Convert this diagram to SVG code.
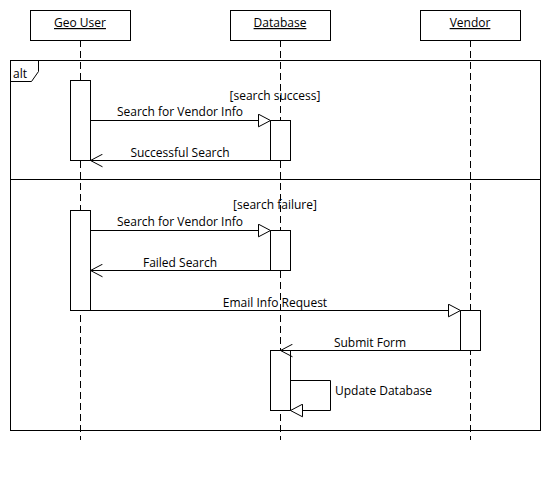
<svg xmlns="http://www.w3.org/2000/svg" width="550" height="480" viewBox="0 0 550 480">
<defs>
<style>
text{font-family:"Open Sans","Noto Sans","DejaVu Sans",sans-serif;font-size:12px;fill:#000}
.mid{text-anchor:middle}
.title{text-decoration:underline}
.box{fill:#fff;stroke:#000;stroke-width:1}
.life{stroke:#000;stroke-width:1;stroke-dasharray:7,4;fill:none}
.msg{stroke:#000;stroke-width:1;fill:none}
.frame{fill:none;stroke:#000;stroke-width:1}
</style>
<marker id="tri" viewBox="0 0 13 14" refX="12.5" refY="7" markerWidth="13" markerHeight="14" markerUnits="userSpaceOnUse" orient="auto">
<path d="M0.5,0.7 L12.5,7 L0.5,13.3 Z" fill="#fff" stroke="#000" stroke-width="1"/>
</marker>
<marker id="open" viewBox="0 0 13 14" refX="12.5" refY="7" markerWidth="13" markerHeight="14" markerUnits="userSpaceOnUse" orient="auto">
<path d="M0.5,0.7 L12.5,7 L0.5,13.3" fill="none" stroke="#000" stroke-width="1"/>
</marker>
</defs>
<rect width="550" height="480" fill="#fff"/>

<g id="frame-alt">
<rect class="frame" x="10.5" y="60.5" width="530" height="370"/>
<path class="frame" d="M10.5,81.5 L31.5,81.5 L38.5,71.5 L38.5,60.5"/>
<text x="13" y="78">alt</text>
<line class="frame" x1="10.5" y1="179.5" x2="540.5" y2="179.5"/>
<text class="mid" x="275" y="100">[search success]</text>
<text class="mid" x="275" y="209">[search failure]</text>
</g>

<g id="lifelines">
<line class="life" x1="80.5" y1="40" x2="80.5" y2="440"/>
<line class="life" x1="280.5" y1="40" x2="280.5" y2="440"/>
<line class="life" x1="470.5" y1="40" x2="470.5" y2="440"/>
</g>

<g id="geo-user">
<rect class="box" x="30.5" y="10.5" width="100" height="30"/>
<text class="mid title" x="80" y="27">Geo User</text>
<rect class="box" x="70.5" y="80.5" width="20" height="80"/>
<rect class="box" x="70.5" y="210.5" width="20" height="100"/>
</g>

<g id="database">
<rect class="box" x="230.5" y="10.5" width="100" height="30"/>
<text class="mid title" x="280" y="27">Database</text>
<rect class="box" x="270.5" y="120.5" width="20" height="40"/>
<rect class="box" x="270.5" y="230.5" width="20" height="40"/>
<rect class="box" x="270.5" y="350.5" width="20" height="60"/>
</g>

<g id="vendor">
<rect class="box" x="420.5" y="10.5" width="100" height="30"/>
<text class="mid title" x="470" y="27">Vendor</text>
<rect class="box" x="460.5" y="310.5" width="20" height="40"/>
</g>

<g id="connectors">
<line class="msg" x1="90.5" y1="120.5" x2="270.5" y2="120.5" marker-end="url(#tri)"/>
<text class="mid" x="180" y="116">Search for Vendor Info</text>
<line class="msg" x1="270.5" y1="160.5" x2="90.5" y2="160.5" marker-end="url(#open)"/>
<text class="mid" x="180" y="157">Successful Search</text>

<line class="msg" x1="90.5" y1="230.5" x2="270.5" y2="230.5" marker-end="url(#tri)"/>
<text class="mid" x="180" y="226">Search for Vendor Info</text>
<line class="msg" x1="270.5" y1="270.5" x2="90.5" y2="270.5" marker-end="url(#open)"/>
<text class="mid" x="180" y="267">Failed Search</text>

<line class="msg" x1="90.5" y1="310.5" x2="460.5" y2="310.5" marker-end="url(#tri)"/>
<text class="mid" x="275" y="307">Email Info Request</text>
<line class="msg" x1="460.5" y1="350.5" x2="280.5" y2="350.5" marker-end="url(#open)"/>
<text class="mid" x="370" y="347">Submit Form</text>

<path class="msg" d="M290.5,380.5 L330.5,380.5 L330.5,410.5 L290.5,410.5" marker-end="url(#tri)"/>
<text x="335" y="395">Update Database</text>
</g>
</svg>
